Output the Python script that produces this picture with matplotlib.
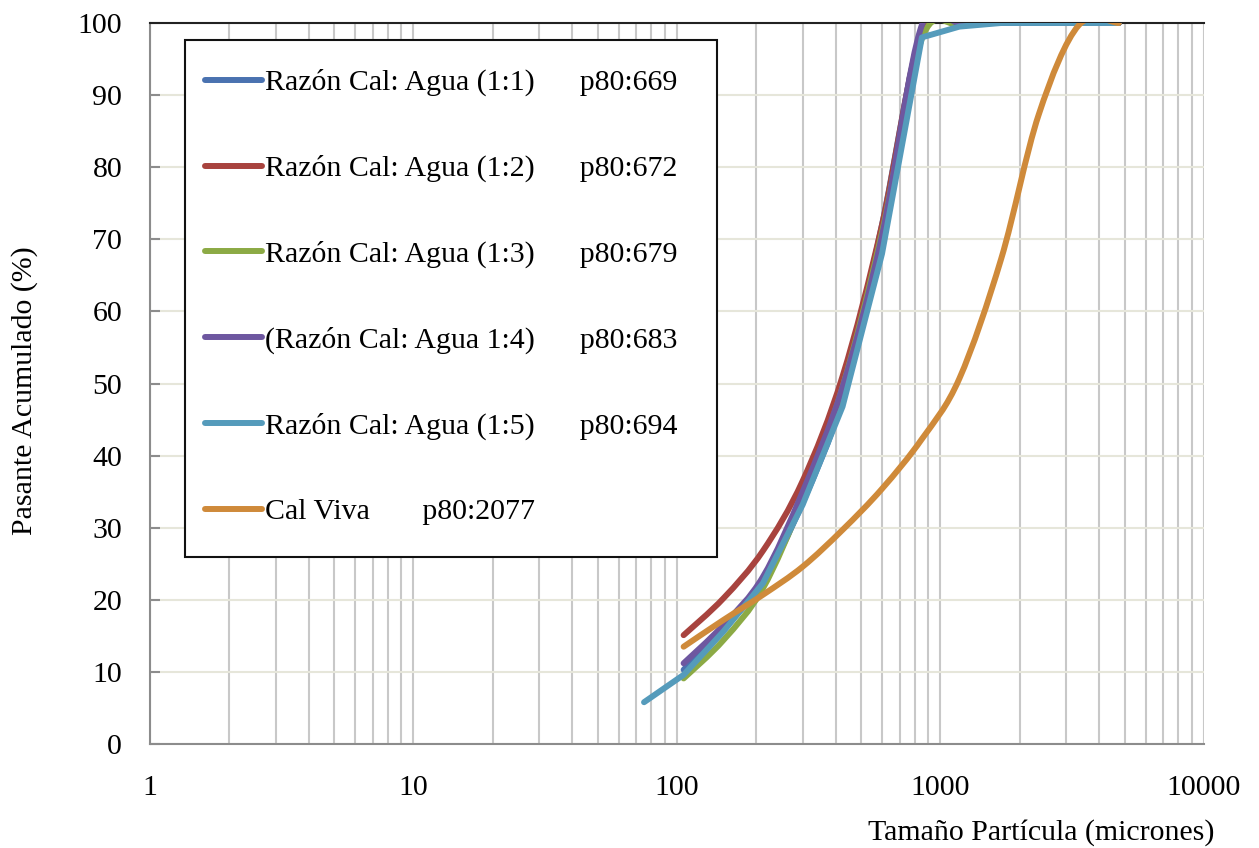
import numpy as np
import matplotlib
matplotlib.use("Agg")
import matplotlib.pyplot as plt
from matplotlib.path import Path
from matplotlib.patches import PathPatch, Rectangle

# sieve sizes (microns)
sizes = [106, 150, 212, 300, 425, 600, 850, 1180, 1700, 2360, 3350, 4750]
sizes_15 = [75] + sizes

# cumulative passing (%)
r11 = [10.3, 16.0, 22.5, 33.5, 48.0, 72.0, 98.8, 99.9, 100, 100, 100, 100]
r12 = [15.1, 20.2, 26.8, 36.5, 51.0, 72.0, 99.0, 100, 100, 100, 100, 100]
r13 = [9.1, 14.4, 21.6, 34.0, 49.5, 71.0, 97.8, 99.8, 100, 100, 100, 100]
r14 = [11.2, 16.5, 23.2, 35.0, 49.5, 70.5, 99.7, 100, 100, 100, 100, 100]
r15 = [5.8, 9.6, 15.6, 22.3, 33.2, 46.8, 68.0, 98.0, 99.5, 100, 100, 100, 100]
cal_viva = [13.5, 17.2, 20.7, 24.6, 29.7, 35.4, 42.3, 50.7, 67.3, 87.3, 99.7, 100]

labels = ["Razón Cal: Agua (1:1)      p80:669",
          "Razón Cal: Agua (1:2)      p80:672",
          "Razón Cal: Agua (1:3)      p80:679",
          "(Razón Cal: Agua 1:4)      p80:683",
          "Razón Cal: Agua (1:5)      p80:694",
          "Cal Viva       p80:2077"]
colors = ["#4A72B0", "#A8433E", "#8CAA45", "#6E57A0", "#559BBB", "#CF8A3A"]
series = [(sizes, r11), (sizes, r12), (sizes, r13), (sizes, r14),
          (sizes_15, r15), (sizes, cal_viva)]
smoothed = [True, True, True, True, False, True]

plt.rcParams['font.family'] = ['Liberation Serif', 'DejaVu Serif']
FS = 21.5
LW = 4.3


def smooth_path(xs, ys):
    # Catmull-Rom style smoothing (like Excel "smoothed line") in log-x space
    lx = np.log10(xs)
    y = np.asarray(ys, float)
    n = len(lx)
    verts = [(xs[0], y[0])]
    codes = [Path.MOVETO]
    for i in range(n - 1):
        i0 = max(i - 1, 0)
        i3 = min(i + 2, n - 1)
        c1 = (lx[i] + (lx[i + 1] - lx[i0]) / 6, y[i] + (y[i + 1] - y[i0]) / 6)
        c2 = (lx[i + 1] - (lx[i3] - lx[i]) / 6, y[i + 1] - (y[i3] - y[i]) / 6)
        verts += [(10 ** c1[0], c1[1]), (10 ** c2[0], c2[1]), (xs[i + 1], y[i + 1])]
        codes += [Path.CURVE4] * 3
    return Path(verts, codes)


fig = plt.figure(figsize=(12.59, 8.48), dpi=100)
ax = fig.add_axes([0.1191, 0.1226, 0.8372, 0.8503])
ax.set_xscale('log')
ax.set_xlim(1, 10000)
ax.set_ylim(0, 100)

handles = []
for k, ((xs, ys), c, lab, sm) in enumerate(zip(series, colors, labels, smoothed)):
    if sm:
        ax.add_patch(PathPatch(smooth_path(xs, ys), fill=False, edgecolor=c,
                               lw=LW, capstyle='round', joinstyle='round', zorder=3 + k))
    else:
        ax.plot(xs, ys, color=c, lw=LW, solid_capstyle='round',
                solid_joinstyle='round', zorder=3 + k)
    h, = ax.plot([], [], color=c, lw=LW, solid_capstyle='round', label=lab)
    handles.append(h)

# grid
ax.set_yticks(np.arange(0, 101, 10))
ax.grid(True, axis='y', color='#E6E6DA', lw=1.5, zorder=0)
ax.grid(True, axis='x', which='both', color='#C8C8C8', lw=1.5, zorder=0)
ax.set_axisbelow(True)

for s in ['left', 'bottom']:
    ax.spines[s].set_color('#8C8C8C')
    ax.spines[s].set_linewidth(1.5)
ax.spines['top'].set_color('#222222')
ax.spines['top'].set_linewidth(1.5)
ax.spines['right'].set_visible(False)

ax.tick_params(axis='y', direction='in', length=7, width=1.5, color='#8C8C8C',
               labelsize=FS, pad=20)
ax.tick_params(axis='x', which='both', length=0, labelsize=FS, pad=22)
ax.set_xticks([1, 10, 100, 1000, 10000])
ax.set_xticklabels(['1', '10', '100', '1000', '10000'])

ax.set_ylabel('Pasante Acumulado (%)', fontsize=FS, va='center')
ax.yaxis.set_label_coords(-0.1186, 0.49)
ax.set_xlabel('Tamaño Partícula (micrones)', fontsize=FS, ha='right', va='center')
ax.xaxis.set_label_coords(1.0104, -0.1234)

# legend box
ax.add_patch(Rectangle((0.0332, 0.2594), 0.5048, 0.7170, transform=ax.transAxes,
                       facecolor='white', edgecolor='#111111', lw=1.5, zorder=10))
leg = ax.legend(handles=handles, loc='upper left',
                bbox_to_anchor=(0.0522, 0.936), fontsize=FS,
                frameon=False, borderpad=0, labelspacing=1.96,
                handlelength=1.9, handletextpad=0.1, borderaxespad=0)
leg.set_zorder(11)

fig.savefig('out.png', dpi=100)
